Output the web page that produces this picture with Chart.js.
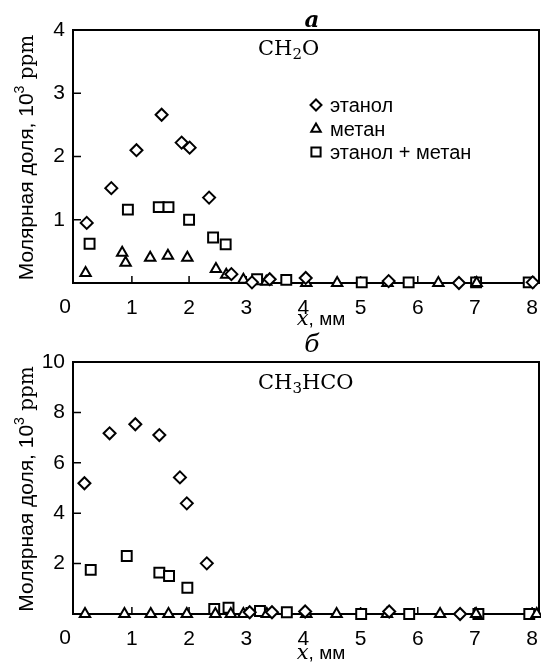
<!DOCTYPE html>
<html><head><meta charset="utf-8">
<script src="https://cdn.jsdelivr.net/npm/chart.js@4/dist/chart.umd.min.js"></script>
<style>
html,body{margin:0;padding:0;background:#fff;}
#wrap{position:relative;width:541px;height:664px;overflow:hidden;}
canvas{position:absolute;left:0;}
</style></head><body>
<div id="wrap">
<canvas id="c1" width="541" height="332" style="top:0px"></canvas>
<canvas id="c2" width="541" height="332" style="top:332px"></canvas>
</div>
<script>
// ---- tick labels / categories ----
const xTicks = [0, 1, 2, 3, 4, 5, 6, 7, 8];
const yTicksA = [0, 1, 2, 3, 4];
const yTicksB = [0, 2, 4, 6, 8, 10];
const seriesNames = ['этанол', 'метан', 'этанол + метан'];

// ---- panel а: CH2O ----
const aEthanolX = [0.21, 0.64, 1.08, 1.52, 1.87, 2.01, 2.35, 2.74, 3.10, 3.41, 4.04, 5.49, 6.72, 8.01];
const aEthanolY = [0.95, 1.50, 2.10, 2.66, 2.22, 2.14, 1.35, 0.14, 0.01, 0.06, 0.08, 0.03, 0.00, 0.01];
const aMethaneX = [0.19, 0.83, 0.89, 1.32, 1.63, 1.97, 2.47, 2.65, 2.95, 3.35, 4.05, 4.59, 5.47, 6.36, 7.03];
const aMethaneY = [0.16, 0.48, 0.32, 0.40, 0.43, 0.40, 0.22, 0.13, 0.05, 0.02, 0.00, 0.00, 0.00, 0.00, 0.00];
const aMixX = [0.26, 0.93, 1.47, 1.64, 2.00, 2.42, 2.64, 3.19, 3.70, 5.02, 5.84, 7.02, 7.94];
const aMixY = [0.62, 1.16, 1.20, 1.20, 1.00, 0.72, 0.61, 0.06, 0.05, 0.01, 0.01, 0.01, 0.01];

// ---- panel б: CH3HCO ----
const bEthanolX = [0.17, 0.61, 1.06, 1.48, 1.84, 1.96, 2.31, 3.06, 3.45, 4.03, 5.50, 6.74];
const bEthanolY = [5.19, 7.17, 7.53, 7.10, 5.42, 4.39, 2.01, 0.07, 0.07, 0.10, 0.10, 0.00];
const bMethaneX = [0.18, 0.87, 1.33, 1.64, 1.96, 2.46, 2.73, 2.95, 3.36, 4.05, 4.58, 5.46, 6.39, 7.02, 8.08];
const bMethaneY = [0, 0, 0, 0, 0, 0, 0, 0, 0, 0, 0, 0, 0, 0, 0];
const bMixX = [0.28, 0.91, 1.48, 1.65, 1.97, 2.44, 2.69, 3.24, 3.71, 5.01, 5.85, 7.06, 7.95];
const bMixY = [1.75, 2.30, 1.64, 1.51, 1.04, 0.20, 0.25, 0.12, 0.07, 0.00, 0.00, 0.00, 0.00];

const SANS = "'Liberation Sans', Arial, sans-serif";
const SERIF = "'DejaVu Serif', serif";
const X_MIN = -0.03, X_MAX = 8.12;

function pts(xs, ys) { return xs.map((x, i) => ({ x: x, y: ys[i] })); }

function drawRuns(ctx, runs, x, y, align) {
  let total = 0;
  runs.forEach(r => { ctx.font = r.font; r.w = ctx.measureText(r.t).width; total += r.w; });
  let cx = align === 'center' ? x - total / 2 : x;
  ctx.textAlign = 'left';
  ctx.textBaseline = 'alphabetic';
  runs.forEach(r => { ctx.font = r.font; ctx.fillText(r.t, cx, y + (r.dy || 0)); cx += r.w; });
}

function marker(ctx, style, x, y, r) {
  ctx.beginPath();
  if (style === 'rectRot') {
    ctx.moveTo(x, y - r); ctx.lineTo(x + r, y); ctx.lineTo(x, y + r); ctx.lineTo(x - r, y); ctx.closePath();
  } else if (style === 'triangle') {
    ctx.moveTo(x, y - r); ctx.lineTo(x + r * 0.866, y + r / 2); ctx.lineTo(x - r * 0.866, y + r / 2); ctx.closePath();
  } else {
    const s = r * 0.7071;
    ctx.rect(x - s, y - s, 2 * s, 2 * s);
  }
  ctx.fillStyle = '#fff'; ctx.fill();
  ctx.lineWidth = 2; ctx.strokeStyle = '#000'; ctx.stroke();
}

function annotPlugin(cfg) {
  return {
    id: 'annot' + cfg.id,
    beforeDatasetsDraw(chart) {
      const { ctx, chartArea: a, scales: { x, y } } = chart;
      ctx.save();
      ctx.strokeStyle = '#000';
      ctx.lineWidth = 2;
      ctx.strokeRect(a.left, a.top, a.right - a.left, a.bottom - a.top);
      ctx.lineWidth = 1.5;
      ctx.beginPath();
      xTicks.forEach(v => {
        if (v === 0) return;
        const px = x.getPixelForValue(v);
        ctx.moveTo(px, a.bottom); ctx.lineTo(px, a.bottom - 7);
      });
      cfg.yTicks.forEach((v, i) => {
        if (i === 0 || i === cfg.yTicks.length - 1) return;
        const py = y.getPixelForValue(v);
        ctx.moveTo(a.left, py); ctx.lineTo(a.left + 8, py);
      });
      ctx.stroke();
      ctx.restore();
    },
    afterDraw(chart) {
      const { ctx, chartArea: a } = chart;
      ctx.save();
      ctx.fillStyle = '#000';
      drawRuns(ctx, [{ t: cfg.letter, font: cfg.letterFont }], 312, cfg.letterY, 'center');
      drawRuns(ctx, cfg.formula, 258, cfg.formulaY, 'left');
      ctx.font = '21px ' + SANS;
      ctx.textAlign = 'center'; ctx.textBaseline = 'middle';
      ctx.fillText('0', 65, a.bottom + 24);
      drawRuns(ctx, [
        { t: 'x', font: 'italic 21px ' + SERIF },
        { t: ', мм', font: '19px ' + SANS }
      ], 321, a.bottom + cfg.xTitleDy, 'center');
      ctx.save();
      ctx.translate(33, (a.top + a.bottom) / 2 + 1);
      ctx.rotate(-Math.PI / 2);
      drawRuns(ctx, [
        { t: 'Молярная доля, 10', font: '21px ' + SANS },
        { t: '3', font: '14px ' + SANS, dy: -9 },
        { t: ' ppm', font: '20px ' + SERIF }
      ], 0, 0, 'center');
      ctx.restore();
      if (cfg.legend) {
        const styles = ['rectRot', 'triangle', 'rect'];
        const rows = [105, 129, 152];
        seriesNames.forEach((n, i) => {
          marker(ctx, styles[i], 316, rows[i], i === 2 ? 6.5 : 5.5);
          ctx.fillStyle = '#000';
          ctx.font = '20px ' + SANS;
          ctx.textAlign = 'left'; ctx.textBaseline = 'middle';
          ctx.fillText(n, 330, rows[i] + 1);
        });
      }
      ctx.restore();
    }
  };
}

function makeChart(id, sets, yTicks, xAxisH, cfg) {
  const st = [
    { pointStyle: 'rectRot', pointRadius: 6 },
    { pointStyle: 'triangle', pointRadius: 6 },
    { pointStyle: 'rect', pointRadius: 7 }
  ];
  const datasets = sets.map((d, i) => Object.assign({
    label: seriesNames[i],
    data: d,
    showLine: false,
    borderColor: '#000',
    backgroundColor: '#fff',
    borderWidth: 2,
    pointBorderWidth: 2,
    pointHoverRadius: st[i].pointRadius,
    clip: false
  }, st[i]));
  return new Chart(document.getElementById(id), {
    type: 'scatter',
    data: { datasets: datasets },
    options: {
      responsive: false,
      animation: false,
      events: [],
      layout: { autoPadding: false, padding: { top: 30, right: 2, left: 0, bottom: 0 } },
      plugins: { legend: { display: false }, tooltip: { enabled: false }, title: { display: false } },
      scales: {
        x: {
          type: 'linear', min: X_MIN, max: X_MAX,
          afterBuildTicks: s => { s.ticks = xTicks.map(v => ({ value: v })); },
          afterFit: s => { s.height = xAxisH; s.paddingLeft = 0; s.paddingRight = 0; },
          grid: { display: false, drawTicks: false },
          border: { display: false },
          ticks: {
            color: '#000', padding: 13, maxRotation: 0, autoSkip: false,
            font: { family: SANS, size: 21 },
            callback: v => (v === 0 ? '' : String(v))
          }
        },
        y: {
          type: 'linear', min: yTicks[0], max: yTicks[yTicks.length - 1],
          afterBuildTicks: s => { s.ticks = yTicks.map(v => ({ value: v })); },
          afterFit: s => { s.width = 73; s.paddingTop = 0; s.paddingBottom = 0; },
          grid: { display: false, drawTicks: false },
          border: { display: false },
          ticks: {
            color: '#000', padding: 8, autoSkip: false,
            font: { family: SANS, size: 21 },
            callback: v => (v === 0 ? '' : String(v))
          }
        }
      }
    },
    plugins: [annotPlugin(Object.assign({ yTicks: yTicks }, cfg))]
  });
}

makeChart('c1',
  [pts(aEthanolX, aEthanolY), pts(aMethaneX, aMethaneY), pts(aMixX, aMixY)],
  yTicksA, 49,
  {
    id: 'A', letter: 'a', letterFont: 'italic bold 23px ' + SERIF, letterY: 27,
    formula: [
      { t: 'CH', font: '21px ' + SERIF },
      { t: '2', font: '15px ' + SERIF, dy: 4 },
      { t: 'O', font: '21px ' + SERIF }
    ],
    formulaY: 55, xTitleDy: 42, legend: true
  });

makeChart('c2',
  [pts(bEthanolX, bEthanolY), pts(bMethaneX, bMethaneY), pts(bMixX, bMixY)],
  yTicksB, 50,
  {
    id: 'B', letter: 'б', letterFont: 'italic 25px ' + SERIF, letterY: 20,
    formula: [
      { t: 'CH', font: '21px ' + SERIF },
      { t: '3', font: '15px ' + SERIF, dy: 4 },
      { t: 'HCO', font: '21px ' + SERIF }
    ],
    formulaY: 57, xTitleDy: 45, legend: false
  });
</script>
</body></html>
